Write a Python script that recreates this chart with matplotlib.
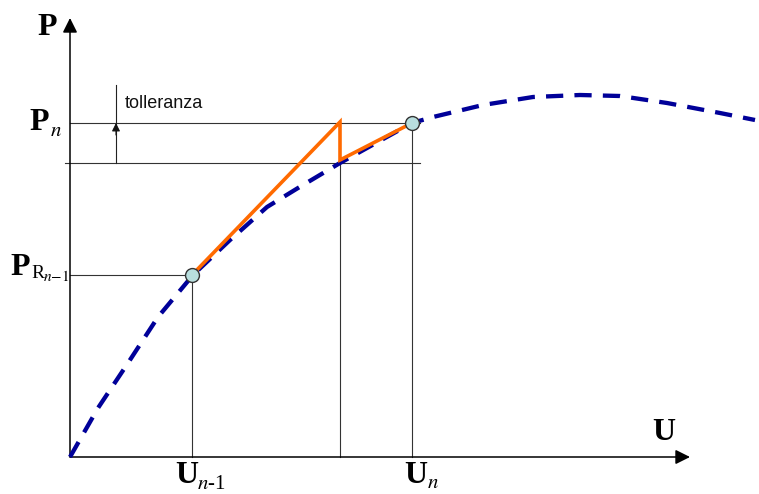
import matplotlib
matplotlib.use("Agg")
import matplotlib.pyplot as plt

plt.rcParams['mathtext.fontset'] = 'stix'

# Equilibrium path P(U) (load vs. displacement)
curve_u = [0.00, 0.28, 0.58, 0.88, 1.23, 1.60, 1.97, 2.28, 2.70, 3.06, 3.42, 3.63,
           4.13, 4.63, 5.10, 5.50, 5.97, 6.50, 6.85]
curve_p = [0.00, 0.49, 0.94, 1.40, 1.82, 2.17, 2.50, 2.69, 2.94, 3.14, 3.34, 3.40,
           3.52, 3.60, 3.62, 3.61, 3.54, 3.44, 3.37]

# Iteration step values
u_prev, p_rprev = 1.22, 1.82     # U_{n-1}, P_R n-1
u_mid, p_low = 2.70, 2.94        # intermediate displacement, lower tolerance level
u_n, p_n = 3.42, 3.34            # U_n, P_n
p_peak_iter = 3.35               # first predictor reaches P_n
p_corr = 2.97                    # residual after first iteration

# Iteration path (orange)
iter_u = [u_prev, u_mid, u_mid, u_n]
iter_p = [p_rprev, p_peak_iter, p_corr, p_n]

u_axis_end, p_axis_end = 6.20, 4.39
tol_x, tol_top = 0.46, 3.72

fig = plt.figure(figsize=(7.59, 4.94), dpi=100)
ax = fig.add_axes([0, 0, 1, 1])
ax.set_xlim(-0.70, 6.89)
ax.set_ylim(-0.37, 4.57)
ax.axis('off')

# Axes with arrows
axis_kw = dict(arrowstyle='-|>', mutation_scale=22, color='black', lw=1.1,
               shrinkA=0, shrinkB=0)
ax.annotate('', xy=(u_axis_end, 0), xytext=(0, 0), arrowprops=axis_kw)
ax.annotate('', xy=(0, p_axis_end), xytext=(0, 0), arrowprops=axis_kw)

# Thin reference lines
ref = dict(color='#333333', lw=0.8, zorder=2)
ax.plot([0, 3.50], [p_n, p_n], **ref)
ax.plot([-0.05, 3.50], [p_low, p_low], **ref)
ax.plot([0, u_prev], [p_rprev, p_rprev], **ref)
ax.plot([u_prev, u_prev], [0, p_rprev], **ref)
ax.plot([u_mid, u_mid], [0, p_low], **ref)
ax.plot([u_n, u_n], [0, p_n], **ref)

# Tolerance arrow
ax.plot([tol_x, tol_x], [p_low, tol_top], color='#222222', lw=0.8)
ax.annotate('', xy=(tol_x, p_n), xytext=(tol_x, p_n - 0.12),
            arrowprops=dict(arrowstyle='-|>', mutation_scale=12, color='#111111',
                            lw=0.8, shrinkA=0, shrinkB=0))
ax.text(0.55, 3.54, 'tolleranza', fontsize=13, family='Liberation Sans',
        ha='left', va='center', color='#111111')

# Equilibrium curve
line, = ax.plot(curve_u, curve_p, color='#000099', lw=3.1, zorder=3)
line.set_dashes([4, 2.6])

# Iteration path
ax.plot(iter_u, iter_p, color='#FF6A00', lw=2.6, zorder=4, solid_joinstyle='miter')

# Converged points
ax.plot([u_prev, u_n], [p_rprev, p_n], 'o', ms=10, mfc='#B8DEDE', mec='#333333',
        mew=1.0, zorder=5)

# Labels
serif = 'Liberation Serif'
big = dict(fontsize=23, fontweight='bold', family=serif, ha='left', va='baseline')
ax.text(-0.33, 4.22, 'P', **big)
ax.text(-0.41, 3.27, 'P', **big)
ax.text(-0.20, 3.21, r'$n$', fontsize=15, ha='left', va='baseline')
ax.text(-0.60, 1.82, 'P', **big)
ax.text(-0.39, 1.79, 'R', fontsize=14, family=serif, ha='left', va='baseline')
ax.text(-0.27, 1.76, r'$n\!-\!1$', fontsize=11, ha='left', va='baseline')
ax.text(1.05, -0.26, 'U', **big)
ax.text(1.27, -0.32, r'$n$-1', fontsize=15, family=serif, ha='left', va='baseline')
ax.text(3.34, -0.26, 'U', **big)
ax.text(3.57, -0.31, r'$n$', fontsize=15, ha='left', va='baseline')
ax.text(5.82, 0.17, 'U', **big)

fig.savefig('out.png', dpi=100)
